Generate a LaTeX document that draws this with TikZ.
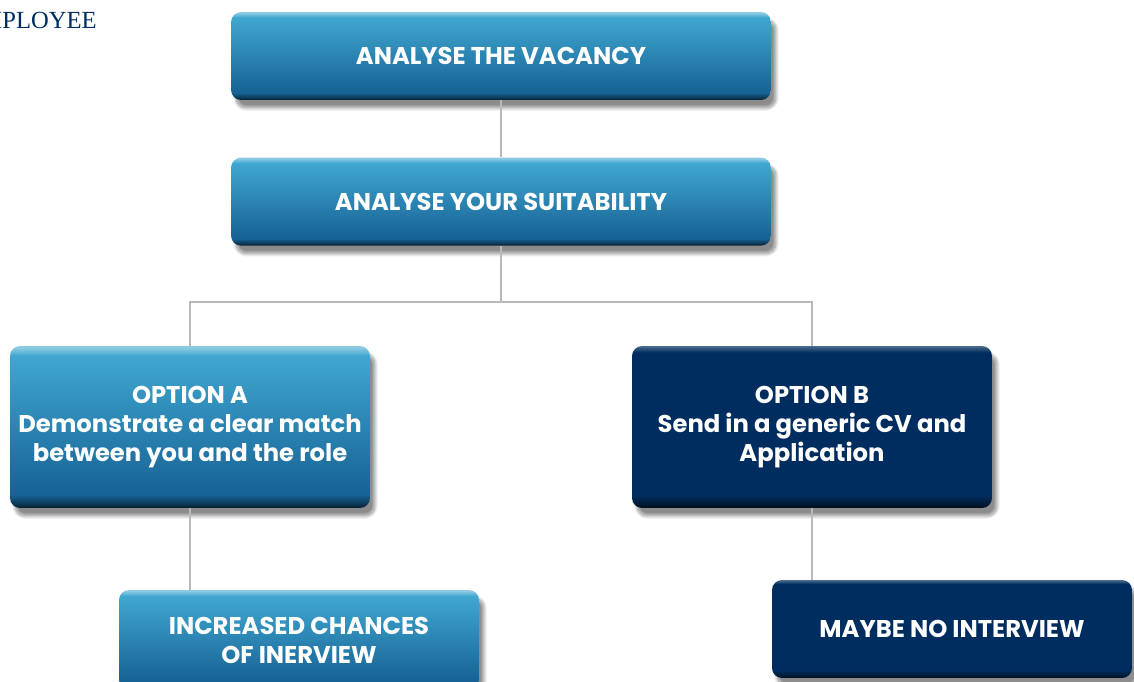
\documentclass[tikz,border=0pt]{standalone}
\usepackage{fontspec}
\setmainfont{Liberation Serif}
\newfontfamily\boxfont{Poppins}
\usetikzlibrary{positioning,shadows.blur}

\definecolor{lightblue}{RGB}{64,167,208}
\definecolor{darkblue}{RGB}{22,98,148}
\definecolor{navy}{RGB}{0,45,95}
\definecolor{linegrey}{RGB}{185,185,185}

% box fills: dark rim at the bottom, light edge at the top
\pgfdeclareverticalshading{bluebevel}{100bp}{
  color(0bp)=(darkblue!30!black); color(25bp)=(darkblue!30!black);
  color(26.5bp)=(darkblue!60!black); color(29bp)=(darkblue);
  color(72bp)=(lightblue); color(74.5bp)=(white!40!lightblue);
  color(100bp)=(white!40!lightblue)}
\pgfdeclareverticalshading{navybevel}{100bp}{
  color(0bp)=(navy!30!black); color(25bp)=(navy!30!black);
  color(26.5bp)=(navy!60!black); color(29bp)=(navy);
  color(73bp)=(navy); color(75bp)=(navy!70!white);
  color(100bp)=(navy!70!white)}

\tikzset{
  box/.style={rounded corners=0.2cm, align=center, text=white,
              font=\boxfont\bfseries\fontsize{13.8}{16.5}\selectfont,
              blur shadow={shadow xshift=0.1cm, shadow yshift=-0.16cm,
                           shadow blur steps=12, shadow opacity=45}},
  bluebox/.style={box, shade, shading=bluebevel},
  navybox/.style={box, shade, shading=navybevel},
  wide/.style={minimum width=10.8cm, minimum height=1.76cm},
  half/.style={minimum width=7.2cm},
  link/.style={draw=linegrey, line width=0.6pt}
}

\begin{document}
\begin{tikzpicture}[x=0.02cm, y=-0.02cm]
\useasboundingbox (0,0) rectangle (1134,682);
\clip (0,0) rectangle (1134,682);

\node[anchor=base east, inner sep=0pt, text=navy,
      font=\fontsize{14}{17}\selectfont] (heading) at (97,29) {EMPLOYEE};

% steps
\node[bluebox, wide] (vacancy) at (501,56) {ANALYSE THE VACANCY};
\node[bluebox, wide, below=1.14cm of vacancy] (suitability)
  {ANALYSE YOUR SUITABILITY};

% the two options
\node[bluebox, half, minimum height=3.24cm] (optA) at (190,427)
  {OPTION A\\Demonstrate a clear match\\between you and the role};
\node[navybox, half, minimum height=3.24cm] (optB) at (812,427)
  {OPTION B\\Send in a generic CV and\\Application};

% outcomes
\node[bluebox, half, minimum height=2cm] (chances) at (299,640)
  {INCREASED CHANCES\\OF INERVIEW};
\node[navybox, half, minimum height=1.96cm] (nointerview) at (952,629)
  {MAYBE NO INTERVIEW};

% connectors
\coordinate (fork) at (501,302);
\draw[link] (vacancy) -- (suitability);
\draw[link] (suitability) -- (fork);
\draw[link] (optA.north) |- (fork) -| (optB.north);
\draw[link] (optA.south) -- (optA.south |- chances.north);
\draw[link] (optB.south) -- (optB.south |- nointerview.north);
\end{tikzpicture}
\end{document}
